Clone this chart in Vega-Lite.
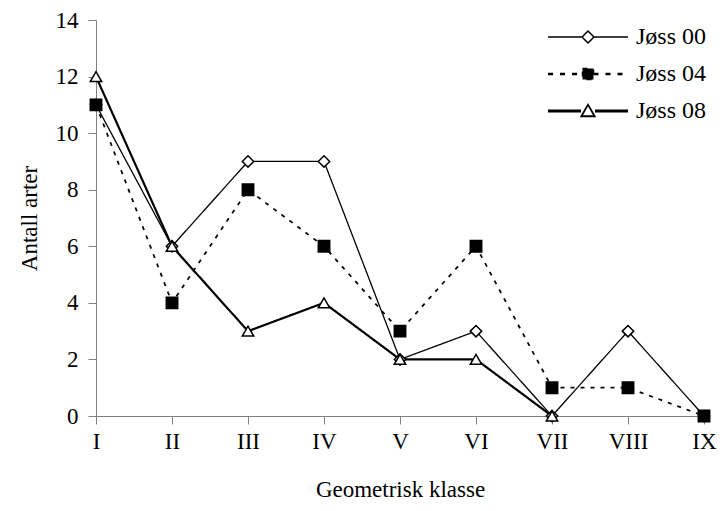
{
  "$schema": "https://vega.github.io/schema/vega-lite/v6.json",
  "width": 608,
  "height": 396,
  "autosize": "none",
  "padding": {"left": 96, "top": 20, "right": 19, "bottom": 95},
  "background": "white",
  "config": {
    "view": {"stroke": null},
    "font": "Liberation Serif",
    "axis": {"labelFont": "Liberation Serif", "titleFont": "Liberation Serif", "labelFontSize": 23, "titleFontSize": 23, "titleFontWeight": "normal", "labelColor": "black", "titleColor": "black", "domainColor": "#808080", "tickColor": "#808080", "grid": false},
    "legend": {"labelFont": "Liberation Serif", "labelFontSize": 24, "labelColor": "black"}
  },
  "data": {
    "values": [
      {"klasse": "I", "series": "Jøss 00", "value": 11},
      {"klasse": "II", "series": "Jøss 00", "value": 6},
      {"klasse": "III", "series": "Jøss 00", "value": 9},
      {"klasse": "IV", "series": "Jøss 00", "value": 9},
      {"klasse": "V", "series": "Jøss 00", "value": 2},
      {"klasse": "VI", "series": "Jøss 00", "value": 3},
      {"klasse": "VII", "series": "Jøss 00", "value": 0},
      {"klasse": "VIII", "series": "Jøss 00", "value": 3},
      {"klasse": "IX", "series": "Jøss 00", "value": 0},
      {"klasse": "I", "series": "Jøss 04", "value": 11},
      {"klasse": "II", "series": "Jøss 04", "value": 4},
      {"klasse": "III", "series": "Jøss 04", "value": 8},
      {"klasse": "IV", "series": "Jøss 04", "value": 6},
      {"klasse": "V", "series": "Jøss 04", "value": 3},
      {"klasse": "VI", "series": "Jøss 04", "value": 6},
      {"klasse": "VII", "series": "Jøss 04", "value": 1},
      {"klasse": "VIII", "series": "Jøss 04", "value": 1},
      {"klasse": "IX", "series": "Jøss 04", "value": 0},
      {"klasse": "I", "series": "Jøss 08", "value": 12},
      {"klasse": "II", "series": "Jøss 08", "value": 6},
      {"klasse": "III", "series": "Jøss 08", "value": 3},
      {"klasse": "IV", "series": "Jøss 08", "value": 4},
      {"klasse": "V", "series": "Jøss 08", "value": 2},
      {"klasse": "VI", "series": "Jøss 08", "value": 2},
      {"klasse": "VII", "series": "Jøss 08", "value": 0}
    ]
  },
  "encoding": {
    "x": {"field": "klasse", "type": "ordinal", "sort": ["I", "II", "III", "IV", "V", "VI", "VII", "VIII", "IX"], "scale": {"type": "point", "padding": 0}, "axis": {"labelAngle": 0, "title": "Geometrisk klasse", "tickSize": 8, "labelPadding": 6, "titlePadding": 25}},
    "y": {"field": "value", "type": "quantitative", "scale": {"domain": [0, 14], "nice": false}, "axis": {"values": [0, 2, 4, 6, 8, 10, 12, 14], "title": "Antall arter", "tickSize": 8, "labelPadding": 10, "titlePadding": 14}}
  },
  "layer": [
    {
      "mark": {"type": "line", "color": "black"},
      "encoding": {
        "detail": {"field": "series"},
        "strokeDash": {"field": "series", "type": "nominal", "scale": {"domain": ["Jøss 00", "Jøss 04", "Jøss 08"], "range": [[1, 0], [4, 6], [1, 0]]}, "legend": null},
        "strokeWidth": {"field": "series", "type": "nominal", "scale": {"domain": ["Jøss 00", "Jøss 04", "Jøss 08"], "range": [1.3, 2.2, 3.2]}, "legend": null}
      }
    },
    {
      "mark": {"type": "point", "stroke": "black", "strokeWidth": 1.5, "opacity": 1},
      "encoding": {
        "shape": {"field": "series", "type": "nominal", "scale": {"domain": ["Jøss 00", "Jøss 04", "Jøss 08"], "range": ["diamond", "square", "triangle-up"]}, "legend": null},
        "fill": {"field": "series", "type": "nominal", "scale": {"domain": ["Jøss 00", "Jøss 04", "Jøss 08"], "range": ["white", "black", "white"]}, "legend": null},
        "size": {"value": 130}
      }
    },
    {
      "transform": [{"filter": "datum.series == 'none'"}],
      "mark": {"type": "point", "opacity": 1},
      "encoding": {
        "x": null,
        "y": null,
        "shape": {"field": "series", "type": "nominal", "scale": {"domain": ["Jøss 00", "Jøss 04", "Jøss 08"], "range": [
          "M-4,0H-0.6M0.6,0H4M0,-0.6L0.6,0L0,0.6L-0.6,0Z",
          "M-4,-0.05H-0.55M0.55,-0.05H4M-4,0.05H-0.55M0.55,0.05H4M-0.55,-0.55H0.55V0.55H-0.55Z",
          "M-4,-0.08H-0.7M0.7,-0.08H4M-4,0H-0.7M0.7,0H4M-4,0.08H-0.7M0.7,0.08H4M0,-0.66L0.7,0.56H-0.7ZM0,-0.6L0.63,0.5H-0.63Z"
        ]}, "legend": {"title": null, "orient": "none", "legendX": 480, "legendY": 5, "symbolSize": 400, "labelOffset": 36, "rowPadding": 13}},
        "stroke": {"field": "series", "type": "nominal", "scale": {"domain": ["Jøss 00", "Jøss 04", "Jøss 08"], "range": ["black", "black", "black"]}},
        "fill": {"field": "series", "type": "nominal", "scale": {"domain": ["Jøss 00", "Jøss 04", "Jøss 08"], "range": ["white", "black", "white"]}},
        "strokeDash": {"field": "series", "type": "nominal", "scale": {"domain": ["Jøss 00", "Jøss 04", "Jøss 08"], "range": [[1, 0], [5, 7], [1, 0]]}}
      }
    }
  ],
  "resolve": {"scale": {"shape": "independent", "fill": "independent", "stroke": "independent", "strokeDash": "independent", "strokeWidth": "independent"}}
}
